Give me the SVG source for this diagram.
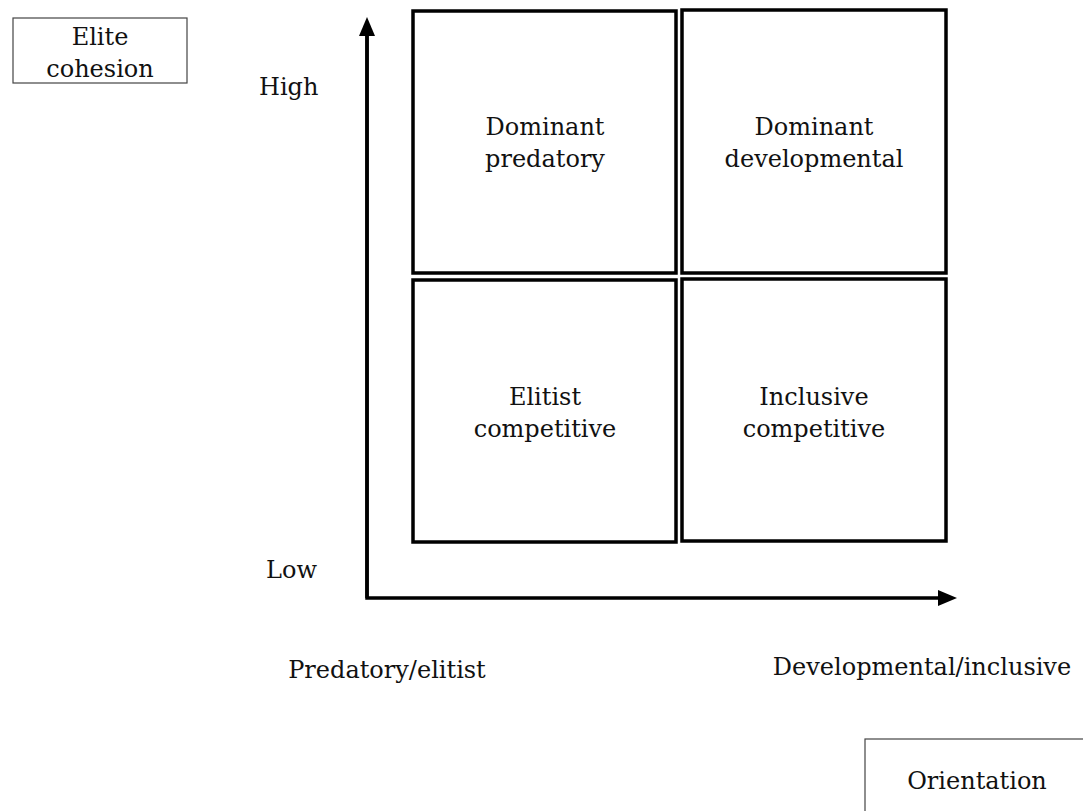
<svg xmlns="http://www.w3.org/2000/svg" width="1083" height="811" viewBox="0 0 1083 811">
  <style>
    text { font-family: "DejaVu Serif", "Liberation Serif", serif; font-size: 24px; fill: #111; }
    .c { text-anchor: middle; }
    .quad { fill: #fff; stroke: #000; stroke-width: 3.5; }
    .label-box { fill: #fff; stroke: #444; stroke-width: 1.2; }
    .axis { stroke: #000; stroke-width: 3.5; fill: none; }
  </style>
  <defs>
    <marker id="arrow" markerUnits="userSpaceOnUse" markerWidth="20" markerHeight="18" refX="0" refY="8" orient="auto">
      <path d="M0,0 L19,8 L0,16 Z" fill="#000"/>
    </marker>
  </defs>
  <rect width="1083" height="811" fill="#fff"/>

  <g id="connectors">
    <polyline class="axis" points="367,35 367,598 938,598" marker-end="url(#arrow)"/>
    <line class="axis" x1="367" y1="598" x2="367" y2="36" marker-end="url(#arrow)"/>
  </g>

  <g id="elite-cohesion">
    <rect class="label-box" x="13" y="18" width="174" height="65"/>
    <text class="c" x="100" y="45">Elite</text>
    <text class="c" x="100" y="77">cohesion</text>
  </g>

  <g id="high-label"><text x="259" y="95">High</text></g>
  <g id="low-label"><text x="266" y="578">Low</text></g>

  <g id="dominant-predatory">
    <rect class="quad" x="413" y="11" width="263" height="262"/>
    <text class="c" x="545" y="135">Dominant</text>
    <text class="c" x="545" y="167">predatory</text>
  </g>
  <g id="dominant-developmental">
    <rect class="quad" x="682" y="10" width="264" height="263"/>
    <text class="c" x="814" y="135">Dominant</text>
    <text class="c" x="814" y="167">developmental</text>
  </g>
  <g id="elitist-competitive">
    <rect class="quad" x="413" y="280" width="263" height="262"/>
    <text class="c" x="545" y="405">Elitist</text>
    <text class="c" x="545" y="437">competitive</text>
  </g>
  <g id="inclusive-competitive">
    <rect class="quad" x="682" y="279" width="264" height="262"/>
    <text class="c" x="814" y="405">Inclusive</text>
    <text class="c" x="814" y="437">competitive</text>
  </g>

  <g id="predatory-label"><text class="c" x="387" y="678">Predatory/elitist</text></g>
  <g id="developmental-label"><text class="c" x="922" y="675">Developmental/inclusive</text></g>

  <g id="orientation">
    <rect class="label-box" x="865" y="739" width="240" height="90"/>
    <text class="c" x="977" y="789">Orientation</text>
  </g>
</svg>
